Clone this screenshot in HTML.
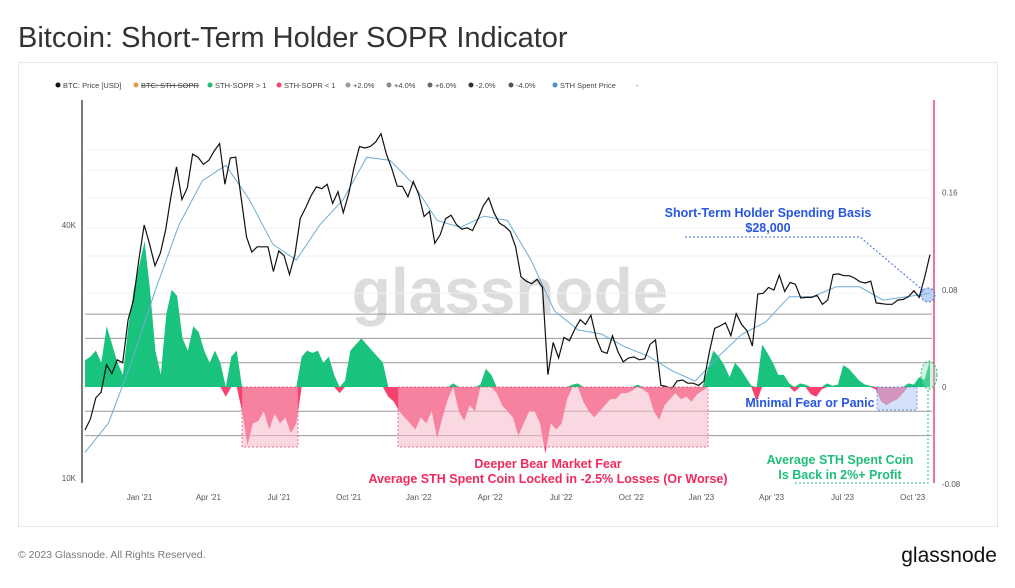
<!DOCTYPE html>
<html><head><meta charset="utf-8"><style>
body{margin:0;background:#fff;width:1015px;height:583px;overflow:hidden;font-family:"Liberation Sans",sans-serif}
</style></head><body>
<svg width="1015" height="583" viewBox="0 0 1015 583" xmlns="http://www.w3.org/2000/svg" font-family="Liberation Sans, sans-serif">
<text x="18" y="47" font-size="29" fill="#333">Bitcoin: Short-Term Holder SOPR Indicator</text>
<rect x="18.5" y="62.5" width="979" height="464" fill="none" stroke="#e6e6e6"/>
<g id="legend" font-size="7.5" fill="#444">
<circle cx="58" cy="85" r="2.5" fill="#111"/><text x="63" y="88">BTC: Price [USD]</text>
<circle cx="136" cy="85" r="2.5" fill="#e8964a"/><text x="141" y="88" text-decoration="line-through">BTC: STH-SOPR</text>
<circle cx="210" cy="85" r="2.5" fill="#1fbf7a"/><text x="215" y="88">STH-SOPR &gt; 1</text>
<circle cx="279" cy="85" r="2.5" fill="#f0446e"/><text x="284" y="88">STH-SOPR &lt; 1</text>
<circle cx="348" cy="85" r="2.5" fill="#999"/><text x="353" y="88">+2.0%</text>
<circle cx="389" cy="85" r="2.5" fill="#888"/><text x="394" y="88">+4.0%</text>
<circle cx="430" cy="85" r="2.5" fill="#666"/><text x="435" y="88">+6.0%</text>
<circle cx="471" cy="85" r="2.5" fill="#333"/><text x="476" y="88">-2.0%</text>
<circle cx="511" cy="85" r="2.5" fill="#555"/><text x="516" y="88">-4.0%</text>
<circle cx="555" cy="85" r="2.5" fill="#4a8fd4"/><text x="560" y="88">STH Spent Price</text>
<text x="636" y="88">-</text>
</g>
<text x="510" y="313" font-size="64" fill="#dcdcdc" text-anchor="middle" font-weight="bold">glassnode</text>
<g id="grid"></g>
<g id="bands"></g>
<g id="sopr"></g>
<g id="priceg"></g>
<line x1="82" y1="100" x2="82" y2="483" stroke="#222" stroke-width="1.2"/>
<line x1="934" y1="100" x2="934" y2="483" stroke="#f0446e" stroke-width="1.5"/>
<g id="axes" font-size="8" fill="#555"></g>
<rect x="242" y="387" width="56" height="60" fill="#f6b8c9" fill-opacity="0.55" stroke="#f0446e" stroke-dasharray="2,2" stroke-width="0.7"/>
<rect x="398" y="387" width="310" height="60" fill="#f6b8c9" fill-opacity="0.55" stroke="#f0446e" stroke-dasharray="2,2" stroke-width="0.7"/>
<rect x="877" y="387" width="40" height="23" fill="#b8cdf4" fill-opacity="0.6" stroke="#4a78e0" stroke-dasharray="2,2" stroke-width="0.7"/>
<ellipse cx="929" cy="375" rx="8" ry="14" fill="#8fe0b8" fill-opacity="0.4" stroke="#1fbf7a" stroke-dasharray="2,2"/>
<ellipse cx="928" cy="295" rx="7" ry="7" fill="#8fb5ef" fill-opacity="0.6" stroke="#3a6de0" stroke-dasharray="2,2"/>
<polyline points="685,237 860,237 925,292" fill="none" stroke="#3a6de0" stroke-dasharray="2,2"/>
<polyline points="795,483 928,483 928,388" fill="none" stroke="#1fbf7a" stroke-dasharray="2,2"/>
<g font-weight="bold" font-size="12.5" text-anchor="middle">
<text x="768" y="217" fill="#2756e0">Short-Term Holder Spending Basis</text>
<text x="768" y="232" fill="#2756e0">$28,000</text>
<text x="548" y="468" fill="#f0295f">Deeper Bear Market Fear</text>
<text x="548" y="483" fill="#f0295f">Average STH Spent Coin Locked in -2.5% Losses (Or Worse)</text>
<text x="810" y="407" fill="#2756e0">Minimal Fear or Panic</text>
<text x="840" y="464" fill="#1fbf7a">Average STH Spent Coin</text>
<text x="840" y="479" fill="#1fbf7a">Is Back in 2%+ Profit</text>
</g>
<text x="18" y="558" font-size="10.5" fill="#777">© 2023 Glassnode. All Rights Reserved.</text>
<text x="997" y="562" font-size="21" fill="#111" text-anchor="end">glassnode</text>
</svg>
<script>
const priceK = [13.0,13.8,15.5,16.0,18.6,17.7,19.1,18.8,23.8,26.5,33.0,40.0,36.0,32.0,34.3,39.0,47.0,55.0,46.0,49.0,59.0,58.0,55.8,57.0,60.0,62.5,50.0,57.8,58.0,46.5,37.5,34.5,35.5,35.5,35.5,31.0,34.7,33.8,30.5,34.0,41.5,44.0,47.0,49.3,48.8,50.0,45.0,48.0,42.8,47.5,54.9,61.5,61.0,61.5,63.0,66.0,59.0,54.5,49.5,49.4,46.7,50.8,47.3,41.9,43.1,36.2,37.9,41.4,42.2,40.1,39.1,39.4,38.8,41.3,44.5,46.4,42.8,40.4,39.7,38.6,35.5,30.1,29.4,29.0,29.7,28.4,17.6,21.0,19.3,21.6,21.2,22.6,23.8,23.2,24.4,21.5,20.0,19.8,21.8,20.0,18.9,19.3,19.4,19.1,19.2,20.8,21.3,16.6,16.5,16.3,17.0,17.1,16.8,16.8,16.6,17.0,19.9,22.7,23.0,23.4,21.8,24.6,23.2,22.4,20.6,27.4,27.5,28.4,28.0,30.4,27.8,29.2,28.9,26.8,26.9,26.9,27.2,25.9,26.5,30.5,30.6,30.3,30.3,29.9,29.3,29.1,29.4,26.1,26.0,25.9,25.9,26.5,26.6,27.0,27.9,26.9,30.0,34.0];
const sthPriceK = [11.5,13.5,19,28,40,51,55.5,46,36,33,40,46,58,57,50,41,39.5,42,41,33,25,22.5,22,20.5,19.5,18,17,19.5,22,23.5,27,27,28.5,28.5,26.5,27,27.5];
const sopr = [.022,.025,.03,.02,.05,.035,.02,.01,.05,.08,.1,.12,.08,.03,.01,.06,.08,.075,.04,.03,.05,.045,.03,.02,.03,.02,-.008,.025,.03,-.02,-.048,-.03,-.028,-.02,-.035,-.022,-.03,-.025,-.038,-.03,.025,.03,.028,.03,.02,.025,.01,-.005,.005,.03,.035,.04,.035,.03,.025,.02,-.008,-.012,-.02,-.025,-.03,-.035,-.025,-.03,-.02,-.042,-.025,-.01,.003,-.02,-.028,-.015,-.02,.002,.015,.01,-.005,-.015,-.02,-.025,-.04,-.03,-.02,-.02,-.03,-.055,-.03,-.035,-.03,-.01,.002,.003,-.012,-.02,-.025,-.02,-.015,-.01,-.01,-.005,-.005,-.003,.002,-.002,-.005,-.02,-.027,-.015,-.01,-.005,-.01,-.008,-.012,-.006,-.003,.015,.03,.025,.018,.008,.02,.015,.008,.001,-.012,.035,.028,.02,.01,.01,.003,-.004,.003,.002,-.006,-.008,-.002,.003,.001,.002,.018,.015,.01,.005,.002,.001,-.002,-.012,-.015,-.012,-.01,-.005,.003,.002,.008,.006,.022];
const xTicks = ["Jan '21","Apr '21","Jul '21","Oct '21","Jan '22","Apr '22","Jul '22","Oct '22","Jan '23","Apr '23","Jul '23","Oct '23"];
const xTickPos = [0.0645,0.146,0.2295,0.312,0.395,0.4795,0.5635,0.6465,0.7295,0.8125,0.8965,0.9795];
const rightTicks = [0.16,0.08,0,-0.08];
const leftTicks = [40,10];
const bandLevels = [0.06,0.04,0.02,-0.02,-0.04];

const NS="http://www.w3.org/2000/svg";
const X0=85,X1=930;
const xAt=(i,n)=>X0+i*(X1-X0)/(n-1);
const xFrac=f=>X0+f*(X1-X0);
const yP=k=>225-Math.log10(k/40)*420;
const yS=v=>387-v*1215;
function mk(t,a,p){const e=document.createElementNS(NS,t);for(const k in a)e.setAttribute(k,a[k]);document.getElementById(p).appendChild(e);return e;}

[150,170,198,228,256,293].forEach(y=>{const l=mk('line',{x1:85,x2:932,y1:y,y2:y,stroke:'#f0f0f0'},'grid');

});
bandLevels.forEach(v=>{const l=mk('line',{x1:85,x2:932,y1:yS(v),y2:yS(v),stroke:'#9a9a9a','stroke-width':1},'bands');

});

function area(sign,color,name){
  let d='';const n=sopr.length;
  for(let i=0;i<n;i++){let v=sopr[i];v=sign>0?Math.max(v,0):Math.min(v,0);d+=(i?'L':'M')+xAt(i,n).toFixed(1)+','+yS(v).toFixed(1);}
  d+='L'+X1+','+yS(0)+'L'+X0+','+yS(0)+'Z';
  const p=mk('path',{d:d,fill:color},'sopr');
  
  
}
area(1,'#19c37d','sopr-profit-area');
area(-1,'#f7426f','sopr-loss-area');

let d1='';sthPriceK.forEach((v,i)=>{d1+=(i?'L':'M')+xAt(i,sthPriceK.length).toFixed(1)+','+yP(v).toFixed(1);});
const sl=mk('path',{d:d1,fill:'none',stroke:'#6aaed6','stroke-width':1},'priceg');


let d2='';priceK.forEach((v,i)=>{d2+=(i?'L':'M')+xAt(i,priceK.length).toFixed(1)+','+yP(v).toFixed(1);});
const pl=mk('path',{d:d2,fill:'none',stroke:'#111','stroke-width':1.2},'priceg');



xTicks.forEach((t,i)=>{const e=mk('text',{x:xFrac(xTickPos[i]),y:500,'text-anchor':'middle'},'axes');e.textContent=t;

});
rightTicks.forEach(v=>{const e=mk('text',{x:942,y:yS(v)+3},'axes');e.textContent=v===0?'0':v.toFixed(2);

});
leftTicks.forEach(v=>{const e=mk('text',{x:76,y:(v===10?481:yP(v)+3),'text-anchor':'end'},'axes');e.textContent=v+'K';

});
</script>
</body></html>
